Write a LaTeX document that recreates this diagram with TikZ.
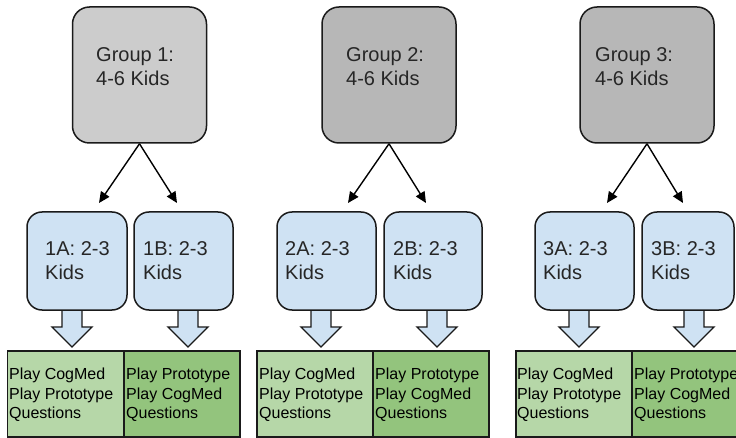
\documentclass[tikz,border=0pt]{standalone}
\usepackage{fontspec}
\setmainfont{Liberation Sans}
\usetikzlibrary{arrows.meta}
\definecolor{grayA}{HTML}{CCCCCC}
\definecolor{grayB}{HTML}{B7B7B7}
\definecolor{blueS}{HTML}{CFE2F3}
\definecolor{greenL}{HTML}{B6D7A8}
\definecolor{greenD}{HTML}{93C47D}
\definecolor{edge}{HTML}{1A1A1A}
\tikzset{
  grp/.style={draw=edge, line width=1.5pt, rounded corners=17pt, minimum width=134pt, minimum height=136pt, inner sep=0pt},
  sub/.style={draw=edge, line width=1.5pt, fill=blueS, rounded corners=15pt, minimum height=98pt, inner sep=0pt},
  act/.style={draw=edge, line width=1.3pt, minimum height=86pt, minimum width=116pt, inner sep=0pt},
  bigtxt/.style={anchor=north west, inner sep=0pt, align=left, font=\fontsize{20}{24}\selectfont, text=black!85},
  smalltxt/.style={anchor=north west, inner sep=0pt, align=left, font=\fontsize{16}{19.5}\selectfont, text=black},
  arr/.style={draw=black, line width=1.4pt, -{Triangle[length=11pt,width=10pt]}},
  barrow/.style={draw=edge, line width=1.3pt, fill=blueS, line join=miter}
}
\newcommand{\blockarr}[1]{\draw[barrow] (#1) ++(-10,0) -- ++(0,17) -- ++(-10,0) -- ++(20,20) -- ++(20,-20) -- ++(-10,0) -- ++(0,-17) -- cycle;}
\begin{document}
\begin{tikzpicture}[x=1pt,y=-1pt]
\clip (0,0) rectangle (736,438);
\fill[white] (0,0) rectangle (736,438);

% block arrows (drawn first)
\coordinate (b1a) at (72,310);
\coordinate (b1b) at (188,310);
\coordinate (b2a) at (321,310);
\coordinate (b2b) at (437,310);
\coordinate (b3a) at (579,310);
\coordinate (b3b) at (694,310);
\blockarr{b1a}\blockarr{b1b}\blockarr{b2a}\blockarr{b2b}\blockarr{b3a}\blockarr{b3b}

% group boxes
\node[grp, fill=grayA] (g1) at (139.5,75) {};
\node[grp, fill=grayB] (g2) at (389,75) {};
\node[grp, fill=grayB] (g3) at (647,75) {};
\node[bigtxt] at (96,47) {Group 1:\\4-6 Kids};
\node[bigtxt] at (346,47) {Group 2:\\4-6 Kids};
\node[bigtxt] at (595,47) {Group 3:\\4-6 Kids};

% sub-group boxes
\node[sub, minimum width=100pt] (s1a) at (77,261) {};
\node[sub, minimum width=99pt] (s1b) at (183.5,261) {};
\node[sub, minimum width=99pt] (s2a) at (326.5,261) {};
\node[sub, minimum width=98pt] (s2b) at (433,261) {};
\node[sub, minimum width=99pt] (s3a) at (584.5,261) {};
\node[sub, minimum width=92pt] (s3b) at (688,261) {};
\node[bigtxt] at (45,241) {1A: 2-3\\Kids};
\node[bigtxt] at (143,241) {1B: 2-3\\Kids};
\node[bigtxt] at (285,241) {2A: 2-3\\Kids};
\node[bigtxt] at (393,241) {2B: 2-3\\Kids};
\node[bigtxt] at (543,241) {3A: 2-3\\Kids};
\node[bigtxt] at (651,241) {3B: 2-3\\Kids};

% connectors
\coordinate (t1a) at (99,203);
\coordinate (t1b) at (177,203);
\coordinate (t2a) at (348,203);
\coordinate (t2b) at (426,203);
\coordinate (t3a) at (607,203);
\coordinate (t3b) at (683,203);
\draw[arr] (g1.south) -- (t1a);
\draw[arr] (g1.south) -- (t1b);
\draw[arr] (g2.south) -- (t2a);
\draw[arr] (g2.south) -- (t2b);
\draw[arr] (g3.south) -- (t3a);
\draw[arr] (g3.south) -- (t3b);

% activity boxes
\node[act, fill=greenL] (a1a) at (65.5,394) {};
\node[act, fill=greenD] (a1b) at (182,394) {};
\node[act, fill=greenL] (a2a) at (315,394) {};
\node[act, fill=greenD] (a2b) at (431,394) {};
\node[act, fill=greenL] (a3a) at (574,394) {};
\node[act, fill=greenD] (a3b) at (690,394) {};
\node[smalltxt] at (9,368) {Play CogMed\\Play Prototype\\Questions};
\node[smalltxt] at (126,368) {Play Prototype\\Play CogMed\\Questions};
\node[smalltxt] at (259,368) {Play CogMed\\Play Prototype\\Questions};
\node[smalltxt] at (375,368) {Play Prototype\\Play CogMed\\Questions};
\node[smalltxt] at (517,368) {Play CogMed\\Play Prototype\\Questions};
\node[smalltxt] at (634,368) {Play Prototype\\Play CogMed\\Questions};
\end{tikzpicture}
\end{document}
